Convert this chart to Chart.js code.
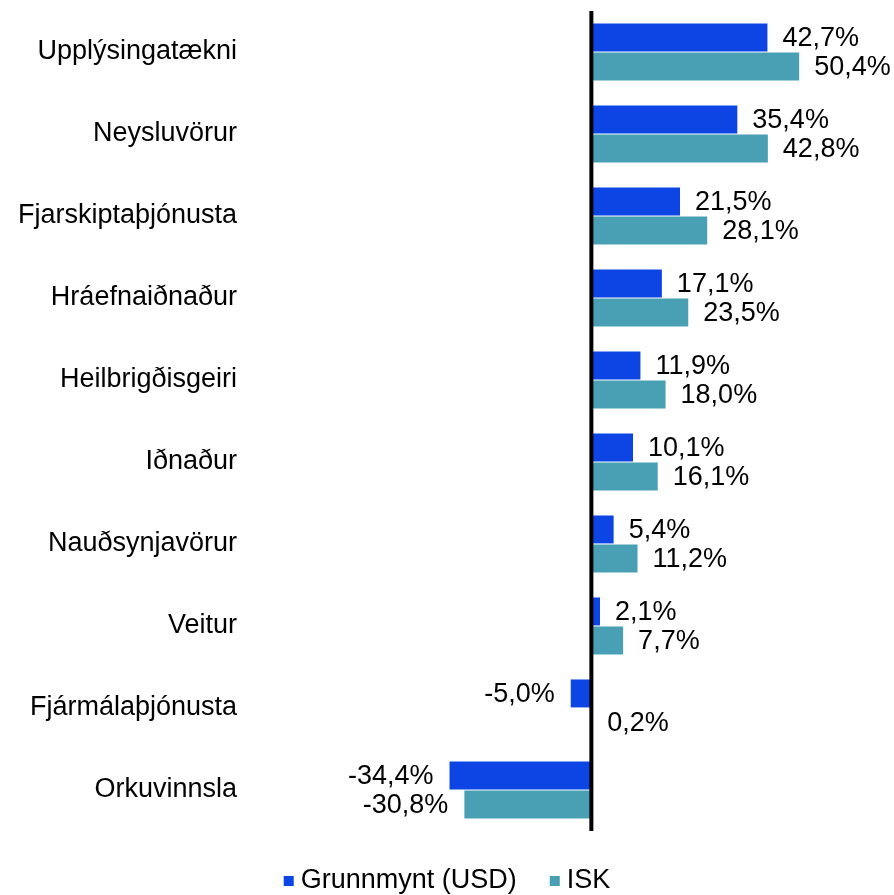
<!DOCTYPE html>
<html>
<head>
<meta charset="utf-8">
<script src="https://cdn.jsdelivr.net/npm/chart.js@4.4.0/dist/chart.umd.min.js"></script>
<style>
  html, body { margin: 0; padding: 0; background: #fff; }
  #wrap { width: 894px; height: 895px; }
</style>
</head>
<body>
<div id="wrap"><canvas id="chart"></canvas></div>
<script>
const categories = ['Upplýsingatækni', 'Neysluvörur', 'Fjarskiptaþjónusta', 'Hráefnaiðnaður', 'Heilbrigðisgeiri',
  'Iðnaður', 'Nauðsynjavörur', 'Veitur', 'Fjármálaþjónusta', 'Orkuvinnsla'];
const usdValues = [42.7, 35.4, 21.5, 17.1, 11.9, 10.1, 5.4, 2.1, -5.0, -34.4];
const iskValues = [50.4, 42.8, 28.1, 23.5, 18.0, 16.1, 11.2, 7.7, 0.2, -30.8];
const seriesNames = ['Grunnmynt (USD)', 'ISK'];

const FONT = '"Liberation Sans", Arial, sans-serif';
const fmt = v => v.toFixed(1).replace('.', ',') + '%';

// zero line, value labels and a hand-drawn legend (wider item spacing than the built-in one)
const barLabels = {
  id: 'barLabels',
  afterDatasetsDraw(chart) {
    const ctx = chart.ctx;
    const area = chart.chartArea;
    const x0 = chart.scales.x.getPixelForValue(0);
    ctx.save();
    ctx.strokeStyle = '#000';
    ctx.lineWidth = 4;
    ctx.beginPath();
    ctx.moveTo(x0, area.top);
    ctx.lineTo(x0, area.bottom);
    ctx.stroke();

    ctx.font = '27px ' + FONT;
    ctx.fillStyle = '#000';
    ctx.textBaseline = 'middle';
    chart.data.datasets.forEach((ds, di) => {
      chart.getDatasetMeta(di).data.forEach((bar, i) => {
        const v = ds.data[i];
        if (v >= 0) {
          ctx.textAlign = 'left';
          ctx.fillText(fmt(v), bar.x + 15, bar.y + 1);
        } else {
          ctx.textAlign = 'right';
          ctx.fillText(fmt(v), bar.x - 16, bar.y + 1);
        }
      });
    });
    ctx.restore();
  },
  afterDraw(chart) {
    const ctx = chart.ctx;
    ctx.save();
    ctx.font = '27px ' + FONT;
    const box = 10, gap = 7, spacing = 33;
    const items = chart.data.datasets.map(ds => ({
      text: ds.label, color: ds.backgroundColor, w: ctx.measureText(ds.label).width
    }));
    const total = items.reduce((s, it) => s + box + gap + it.w, 0) + spacing * (items.length - 1);
    let x = (chart.width - total) / 2;
    const y = chart.chartArea.bottom + 50;
    ctx.textAlign = 'left';
    ctx.textBaseline = 'middle';
    items.forEach(it => {
      ctx.fillStyle = it.color;
      ctx.fillRect(x, y - 5, box, box);
      ctx.fillStyle = '#000';
      ctx.fillText(it.text, x + box + gap, y);
      x += box + gap + it.w + spacing;
    });
    ctx.restore();
  }
};

new Chart(document.getElementById('chart'), {
  type: 'bar',
  data: {
    labels: categories,
    datasets: [
      {
        label: seriesNames[0],
        data: usdValues,
        backgroundColor: '#0d45e4',
        barPercentage: 0.96,
        categoryPercentage: 0.71
      },
      {
        label: seriesNames[1],
        data: iskValues,
        backgroundColor: '#49a0b4',
        barPercentage: 0.96,
        categoryPercentage: 0.71
      }
    ]
  },
  options: {
    indexAxis: 'y',
    responsive: true,
    maintainAspectRatio: false,
    animation: false,
    layout: { padding: { top: 11, right: 14, bottom: 64, left: 0 } },
    plugins: {
      legend: { display: false },
      tooltip: { enabled: false }
    },
    scales: {
      x: {
        min: -84,
        max: 70,
        display: false,
        grid: { display: false }
      },
      y: {
        grid: { display: false, drawTicks: false },
        border: { display: false },
        ticks: { color: '#000', font: { size: 27, family: FONT }, padding: 8 },
        afterFit(scale) {
          scale.width = 245;
          scale.paddingTop = 0;
          scale.paddingBottom = 0;
        }
      }
    }
  },
  plugins: [barLabels]
});
</script>
</body>
</html>
